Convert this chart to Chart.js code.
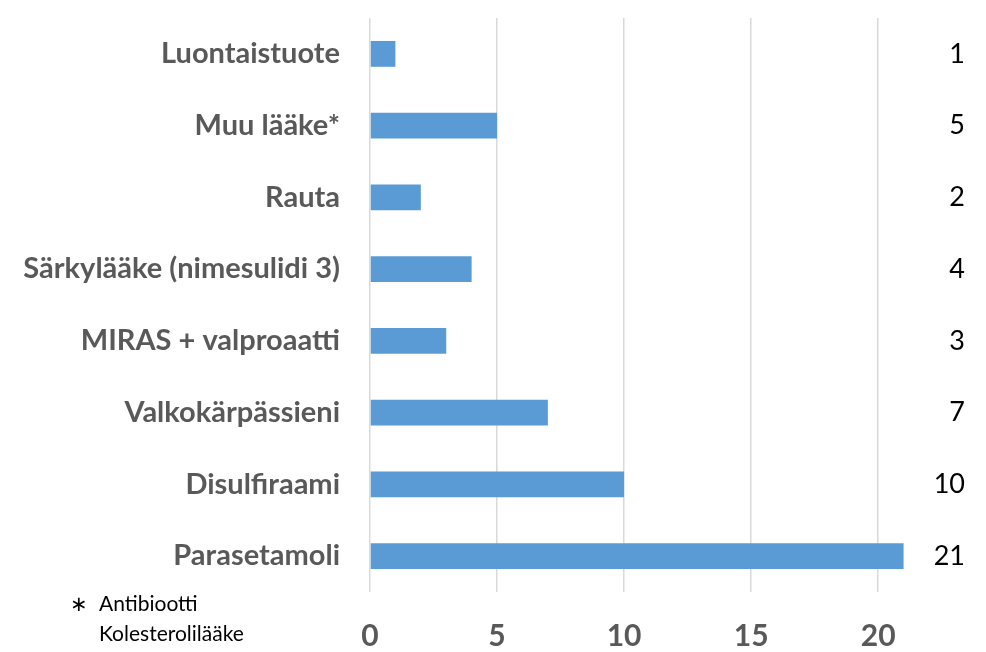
<!DOCTYPE html>
<html>
<head>
<meta charset="utf-8">
<script src="https://cdn.jsdelivr.net/npm/chart.js@4"></script>
<style>
  html, body { margin: 0; padding: 0; background: #fff; overflow: hidden; }
  #wrap { position: relative; width: 986px; height: 652px; overflow: hidden; }
  #note { position: absolute; left: 70px; top: 588px; font: 21px Lato, sans-serif; color: #000; line-height: 30px; }
  #note .star { position: absolute; left: 0; top: 0; }
  #note .lines { margin-left: 29px; }
</style>
</head>
<body>
<div id="wrap">
  <canvas id="bars" width="986" height="652"></canvas>
  <div id="note"><span class="star">∗</span><div class="lines"></div></div>
</div>
<script>
// arvot luettu kuvasta
const categories = ['Luontaistuote', 'Muu lääke*', 'Rauta', 'Särkylääke (nimesulidi 3)',
  'MIRAS + valproaatti', 'Valkokärpässieni', 'Disulfiraami', 'Parasetamoli'];
const counts = [1, 5, 2, 4, 3, 7, 10, 21];
const xTicks = [0, 5, 10, 15, 20];
const footnote = ['Antibiootti', 'Kolesterolilääke', 'Parkinsonlääke'];

document.querySelector('#note .lines').innerHTML = footnote.join('<br>');

const gray = '#595959';
let ctx = document.querySelector('#bars');

// y-akseleille kiinteä leveys eikä ylimääräistä täytettä ylös/alas
function fixY(w) {
  return (s) => { s.width = w; s.paddingTop = 0; s.paddingBottom = 0; };
}

const myChart = new Chart(ctx, {
  type: 'bar',
  data: {
    labels: categories,
    datasets: [{
      data: counts,
      backgroundColor: '#5B9BD5',
      categoryPercentage: 1,
      barPercentage: 0.36,
    }],
  },
  options: {
    responsive: false,
    animation: false,
    indexAxis: 'y',
    layout: { padding: { top: 18, left: 0, right: 21, bottom: 0 } },
    plugins: { legend: { display: false }, tooltip: { enabled: false } },
    scales: {
      x: {
        type: 'linear',
        min: 0,
        max: 22,
        afterBuildTicks: (s) => { s.ticks = xTicks.map(v => ({ value: v })); },
        afterFit: (s) => { s.height = 60; s.paddingLeft = 0; s.paddingRight = 0; },
        ticks: { color: gray, font: { family: 'Lato', size: 30, weight: 'bold' }, padding: 26 },
        grid: { color: '#D9D9D9', lineWidth: 1.5, drawTicks: false },
        border: { display: false },
      },
      y: {
        position: 'left',
        afterFit: fixY(370),
        ticks: { color: gray, font: { family: 'Lato', size: 29, weight: 'bold' }, padding: 30 },
        grid: { display: false, drawTicks: false },
        border: { display: false },
      },
      y2: {
        type: 'category',
        position: 'right',
        offset: true,
        labels: counts.map(String),
        afterFit: fixY(36),
        ticks: { color: '#000', font: { family: 'Lato', size: 27 }, crossAlign: 'far', padding: 0 },
        grid: { display: false, drawTicks: false },
        border: { display: false },
      }
    }
  }
});
</script>
</body>
</html>
